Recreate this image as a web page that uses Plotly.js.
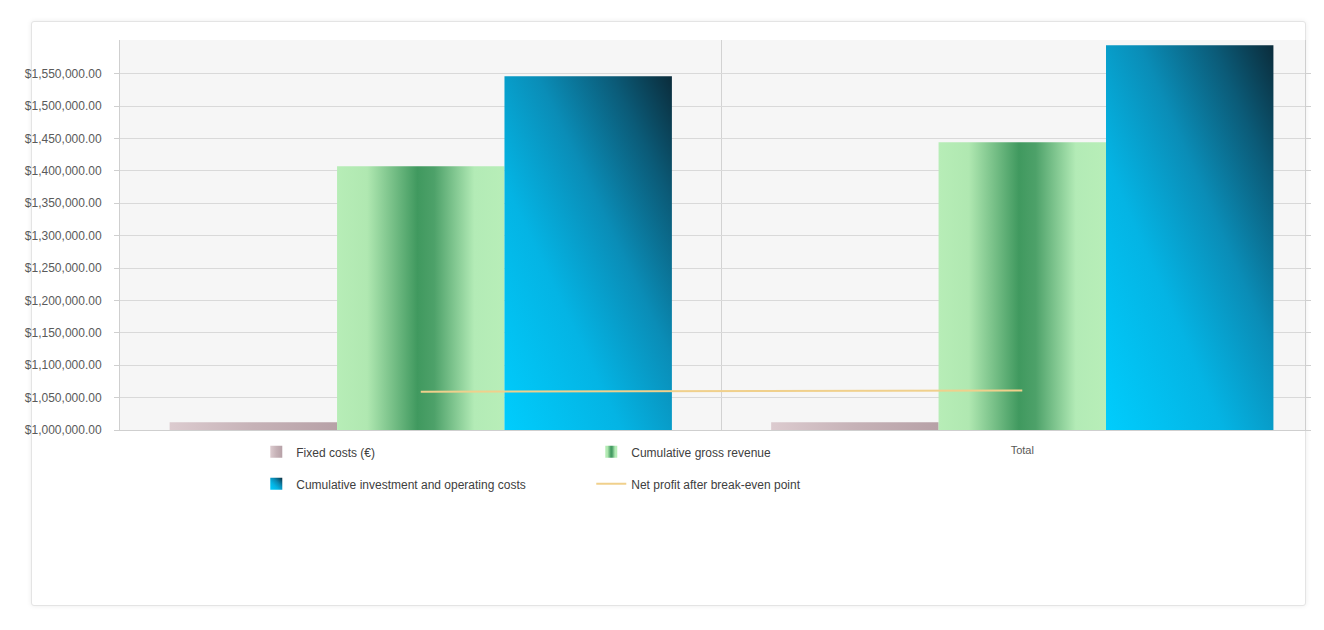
<!DOCTYPE html>
<html><head><meta charset="utf-8">
<script src="https://cdn.plot.ly/plotly-3.0.1.min.js"></script>
<style>
html,body{margin:0;padding:0;background:#fff;}
#frame{position:absolute;left:31px;top:21px;width:1273px;height:583px;border:1px solid #e4e4e4;border-radius:3px;box-shadow:0 0 5px rgba(0,0,0,0.08);background:#fff;}
#chart{position:absolute;left:0;top:0;width:1324px;height:630px;}
</style></head><body>
<div id="frame"></div><div id="chart"></div>
<script>
// ---- data ----
const categories = ["", "Total"];
const seriesNames = [
  "Fixed costs (€)",
  "Cumulative gross revenue",
  "Cumulative investment and operating costs",
  "Net profit after break-even point"
];
const fixedCost  = [1012000, 1012000];
const revenue    = [1407000, 1444000];
const investment = [1546000, 1594000];
const breakEven  = [1059000, 1061000];
const yTickValues = [1000000,1050000,1100000,1150000,1200000,1250000,1300000,1350000,1400000,1450000,1500000,1550000];
const yTickLabels = ["$1,000,000.00","$1,050,000.00","$1,100,000.00","$1,150,000.00","$1,200,000.00","$1,250,000.00",
                     "$1,300,000.00","$1,350,000.00","$1,400,000.00","$1,450,000.00","$1,500,000.00","$1,550,000.00"];

// ---- chart ----
const xIdx = categories.map((c, i) => i);
const yMin = yTickValues[0];
const font = "Liberation Sans, Arial, sans-serif";

const traces = [
  {type:"bar", name:seriesNames[0], x:xIdx, y:fixedCost, base:yMin, marker:{color:"#c9b7bb"}, legend:"legend", hoverinfo:"y+name"},
  {type:"bar", name:seriesNames[1], x:xIdx, y:revenue, base:yMin, marker:{color:"#6cbf82"}, legend:"legend", hoverinfo:"y+name"},
  {type:"bar", name:seriesNames[2], x:xIdx, y:investment, base:yMin, marker:{color:"#0a8fbc"}, legend:"legend2", hoverinfo:"y+name"},
  {type:"scatter", mode:"lines", name:seriesNames[3], x:xIdx, y:breakEven, line:{color:"#f0d08c", width:2}, legend:"legend2", hoverinfo:"y+name"}
];
// bars rise from the axis floor, as in the original chart
traces.slice(0,3).forEach(t => { t.y = t.y.map(v => v - yMin); });

const layout = {
  width:1324, height:630,
  paper_bgcolor:"rgba(0,0,0,0)",
  plot_bgcolor:"#f6f6f6",
  margin:{l:120, r:19, t:40, b:200},
  font:{family:font, size:12, color:"#595959"},
  barmode:"group", bargap:0.165, bargroupgap:0,
  showlegend:true,
  xaxis:{
    range:[-0.5, 1.47], tickmode:"array", tickvals:xIdx, ticktext:categories,
    showgrid:false, zeroline:false, showline:true, linecolor:"#cfcfcf", linewidth:1,
    ticks:"outside", ticklen:10, tickcolor:"rgba(0,0,0,0)",
    tickfont:{size:11, color:"#595959"}, fixedrange:true
  },
  yaxis:{
    range:[yMin, 1602000], tickmode:"array", tickvals:yTickValues, ticktext:yTickLabels,
    showgrid:true, gridcolor:"#d9d9d9", gridwidth:1, zeroline:false,
    showline:true, linecolor:"#cfcfcf", mirror:"ticks",
    ticks:"outside", ticklen:5, tickcolor:"#cfcfcf", ticklabelstandoff:10,
    tickfont:{size:12, color:"#5a5a5a"}, fixedrange:true
  },
  shapes:[
    {type:"line", xref:"x", yref:"paper", x0:0.5, x1:0.5, y0:0, y1:1, line:{color:"#d2d2d2", width:1}, layer:"below"}
  ],
  legend:{
    orientation:"h", x:0.115, xanchor:"left", y:-0.056, yanchor:"middle",
    entrywidth:290, entrywidthmode:"pixels", bgcolor:"rgba(0,0,0,0)",
    font:{size:12, color:"#404040"}, traceorder:"normal"
  },
  legend2:{
    orientation:"h", x:0.115, xanchor:"left", y:-0.138, yanchor:"middle",
    entrywidth:290, entrywidthmode:"pixels", bgcolor:"rgba(0,0,0,0)",
    font:{size:12, color:"#404040"}, traceorder:"normal"
  }
};

const gradDefs = [
  {id:"gRed",   x1:0, y1:0, x2:1, y2:0, stops:[[0,"#dccbcf"],[0.5,"#c6b2b7"],[1,"#b7a1a7"]]},
  {id:"gGreen", x1:0, y1:0, x2:1, y2:0, stops:[[0,"#b7edb7"],[0.18,"#b0e8b1"],[0.48,"#40995f"],[0.58,"#4da169"],[0.82,"#b3ebb6"],[1,"#b8eeb8"]]},
  {id:"gBlue",  x1:0, y1:1, x2:1, y2:0, stops:[[0,"#00cdfd"],[0.35,"#04b4e4"],[0.6,"#0a8db7"],[0.82,"#0b5b78"],[1,"#0b2c3b"]]}
];
const gradIds = ["gRed","gGreen","gBlue"];

function applyGradients(){
  const gd = document.getElementById("chart");
  const svg = gd.querySelector(".main-svg");
  if(!svg) return;
  const ns = "http://www.w3.org/2000/svg";
  let defs = svg.querySelector("defs");
  if(!defs){ defs = document.createElementNS(ns, "defs"); svg.insertBefore(defs, svg.firstChild); }
  gradDefs.forEach(g => {
    if(document.getElementById(g.id)) return;
    const lg = document.createElementNS(ns, "linearGradient");
    lg.setAttribute("id", g.id);
    ["x1","y1","x2","y2"].forEach(k => lg.setAttribute(k, g[k]));
    g.stops.forEach(s => {
      const st = document.createElementNS(ns, "stop");
      st.setAttribute("offset", s[0]); st.setAttribute("stop-color", s[1]);
      lg.appendChild(st);
    });
    defs.appendChild(lg);
  });
  gd.querySelectorAll(".barlayer .trace").forEach((t, i) => {
    t.querySelectorAll("path").forEach(p => { p.style.fill = "url(#" + gradIds[i] + ")"; });
  });
  gd.querySelectorAll("g.traces").forEach(tr => {
    const txt = tr.querySelector("text");
    if(!txt) return;
    const name = txt.textContent.trim();
    const k = seriesNames.findIndex(n => n === name);
    if(k >= 0 && k < 3){
      tr.querySelectorAll("path").forEach(p => {
        if(p.closest(".legendpoints")) p.style.fill = "url(#" + gradIds[k] + ")";
      });
    }
  });
}

Plotly.newPlot("chart", traces, layout, {displayModeBar:false, responsive:false}).then(gd => {
  applyGradients();
  gd.on("plotly_afterplot", applyGradients);
  setTimeout(applyGradients, 50);
  setTimeout(applyGradients, 300);
});
</script>
</body></html>
